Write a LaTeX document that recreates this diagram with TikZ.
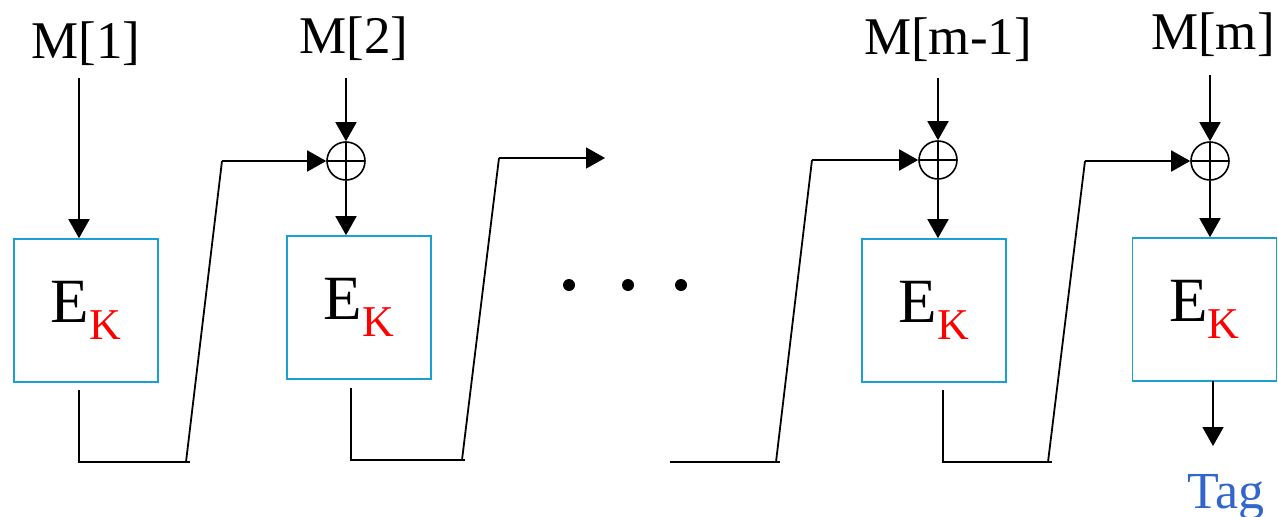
\documentclass[tikz,border=0pt]{standalone}
\usepackage{fontspec}
\setmainfont{Liberation Serif}
\usetikzlibrary{arrows.meta}
\definecolor{boxblue}{RGB}{27,160,210}
\definecolor{tagblue}{RGB}{51,102,204}
\newcommand{\encK}{\fontsize{63}{70}\selectfont E\raisebox{-17pt}{\fontsize{44}{48}\selectfont\color{red}K}}
\begin{document}
\begin{tikzpicture}[x=1pt,y=-1pt,line width=1.8pt,
  >={Triangle[length=19pt,width=21pt]},
  enc/.style={draw=boxblue,line width=1.6pt,minimum width=144pt,minimum height=143pt,inner sep=0pt},
  msg/.style={font=\fontsize{53}{56}\selectfont,inner sep=0pt,anchor=base},
  xor/.style={circle,draw,minimum size=38pt,inner sep=0pt,line width=1.6pt,
    path picture={\draw[line width=1.6pt] (path picture bounding box.north) -- (path picture bounding box.south)
      (path picture bounding box.west) -- (path picture bounding box.east);}},
  dot/.style={circle,fill,minimum size=12pt,inner sep=0pt},
  tag/.style={font=\fontsize{52}{56}\selectfont,text=tagblue,inner sep=0pt,anchor=base}]
\useasboundingbox (0,0) rectangle (1278,517);

% cipher blocks
\node[enc] (e1) at (86,310.5) {\encK};
\node[enc] (e2) at (359,307.5) {\encK};
\node[enc] (e3) at (934,310.5) {\encK};
\node[enc] (e4) at (1204.5,309.5) {\encK};

% xor gates
\node[xor] (x2) at (346,161) {};
\node[xor] (x3) at (938,160) {};
\node[xor] (x4) at (1210,161) {};

% message blocks
\node[msg] (m1) at (86,58) {M[1]};
\node[msg] (m2) at (354,53) {M[2]};
\node[msg] (m3) at (948,54) {M[m-1]};
\node[msg] (m4) at (1213,49) {M[m]};
\node[tag] (tag) at (1226,508) {Tag};

% ellipsis
\node[dot] (d1) at (569,285) {};
\node[dot] (d2) at (628,285) {};
\node[dot] (d3) at (681,285) {};

% message inputs
\coordinate (a1) at (79,78);
\coordinate (a2) at (346,78);
\coordinate (a3) at (938,78);
\coordinate (a4) at (1210,75);
\draw[->] (a1) -- (a1 |- e1.north);
\draw[->] (a2) -- (x2);
\draw[->] (a3) -- (x3);
\draw[->] (a4) -- (x4);
\draw[->] (x2) -- (x2 |- e2.north);
\draw[->] (x3) -- (x3 |- e3.north);
\draw[->] (x4) -- (x4 |- e4.north);

% chaining from block 1
\coordinate (o1) at (79,390);
\coordinate (b1) at (79,462);
\coordinate (c1) at (190,462);
\coordinate (s1) at (186,462);
\coordinate (t1) at (222,161);
\draw (o1) -- (b1) -- (c1);
\draw (s1) -- (t1);
\draw[->] (t1) -- (x2);

% chaining from block 2
\coordinate (o2) at (351,388);
\coordinate (b2) at (351,460);
\coordinate (c2) at (465,460);
\coordinate (s2) at (462,460);
\coordinate (t2) at (499,158);
\coordinate (f2) at (605,158);
\draw (o2) -- (b2) -- (c2);
\draw (s2) -- (t2);
\draw[->] (t2) -- (f2);

% chaining into block m-1
\coordinate (h3) at (670,462);
\coordinate (c3) at (780,462);
\coordinate (s3) at (776,462);
\coordinate (t3) at (812,160);
\draw (h3) -- (c3);
\draw (s3) -- (t3);
\draw[->] (t3) -- (x3);

% chaining from block m-1
\coordinate (o3) at (943,390);
\coordinate (b3) at (943,462);
\coordinate (c4) at (1052,462);
\coordinate (s4) at (1048,462);
\coordinate (t4) at (1085,161);
\draw (o3) -- (b3) -- (c4);
\draw (s4) -- (t4);
\draw[->] (t4) -- (x4);

% output
\coordinate (o4) at (1213,381);
\coordinate (g4) at (1213,446);
\draw[->] (o4) -- (g4);
\end{tikzpicture}
\end{document}
